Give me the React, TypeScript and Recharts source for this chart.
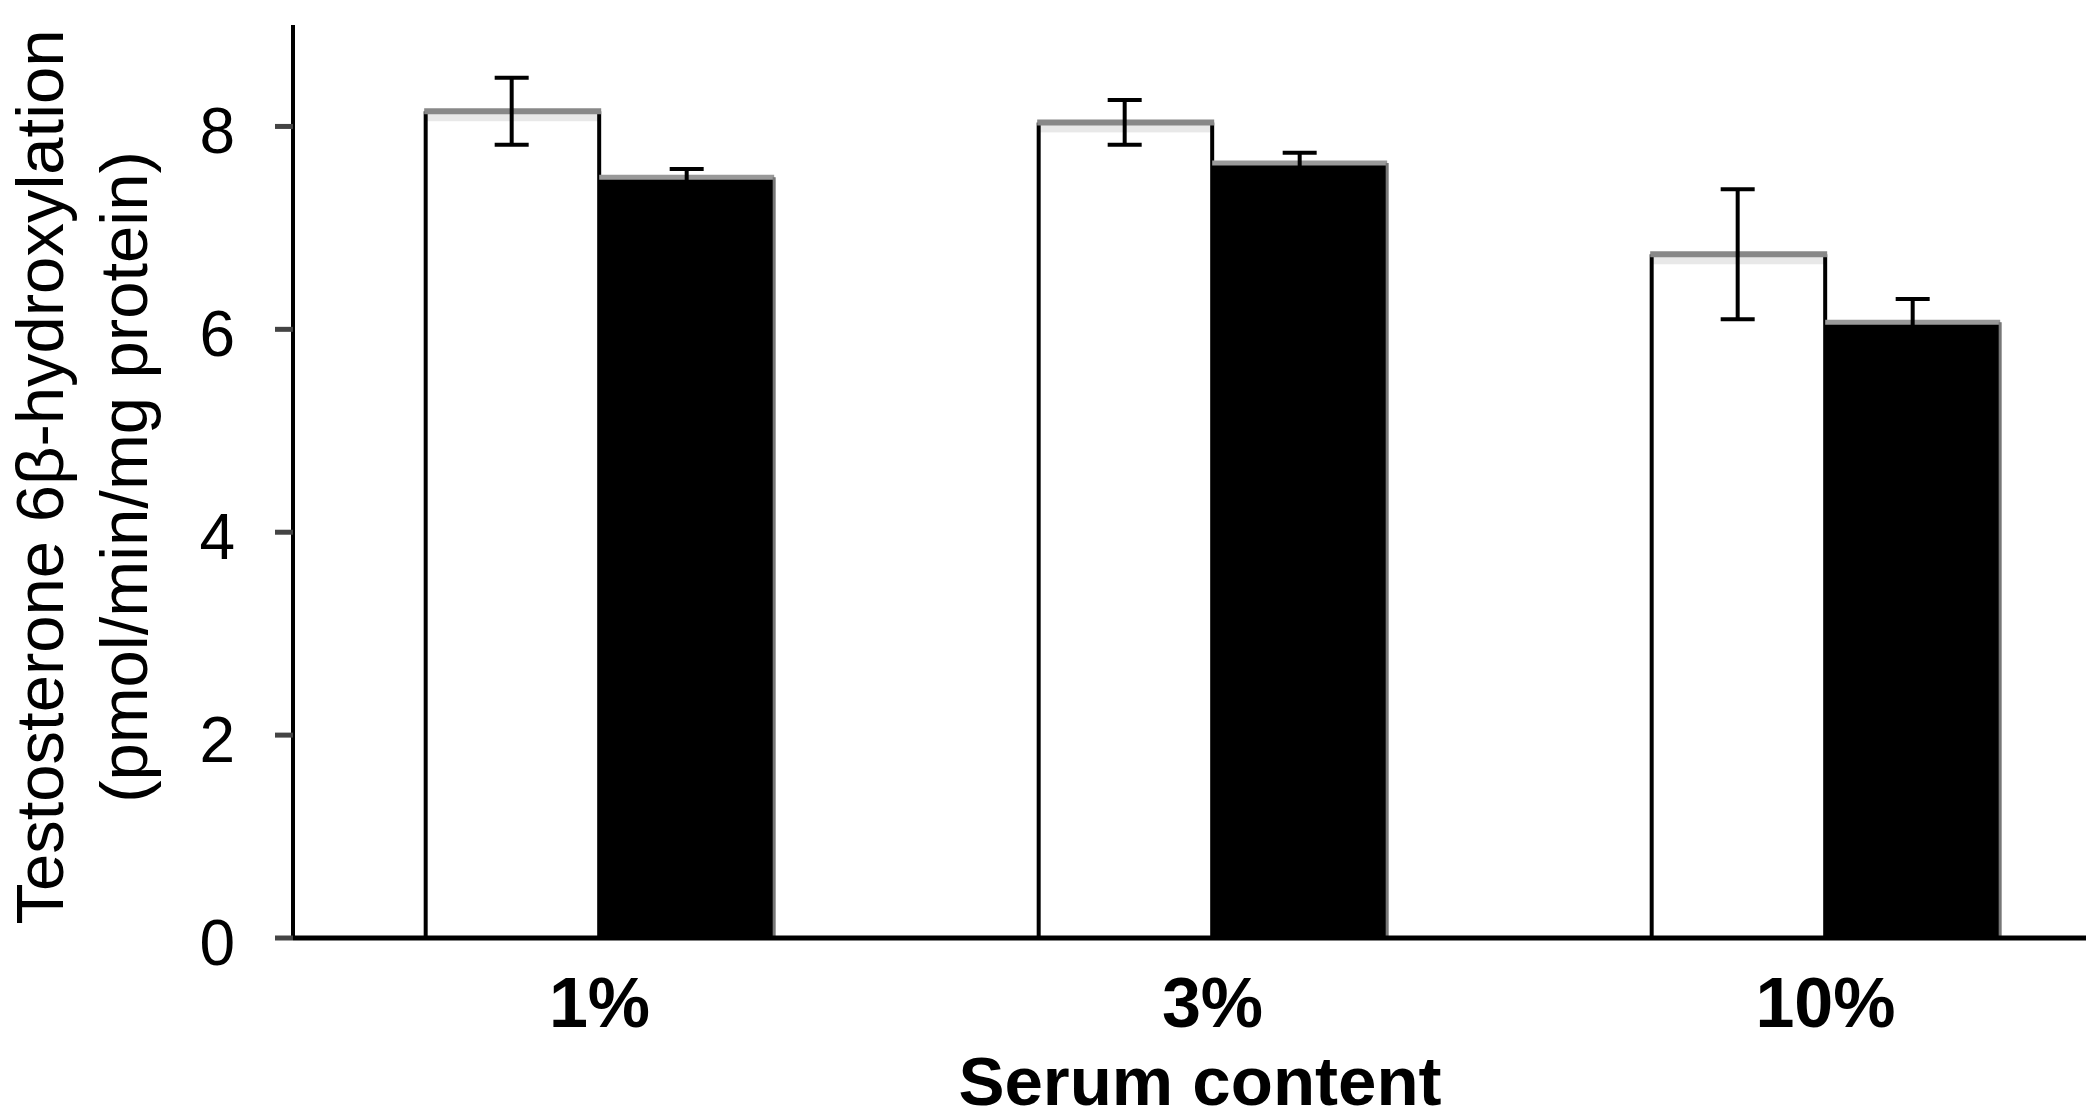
import React from 'react';
import { BarChart, Bar, XAxis, YAxis, ErrorBar } from 'recharts';

const categories = ['1%', '3%', '10%'];
const openValues = [8.15, 8.04, 6.74];
const openErrors = [0.33, 0.22, 0.64];
const filledValues = [7.5, 7.64, 6.07];
const filledErrors = [0.08, 0.1, 0.23];
const yTicks = [0, 2, 4, 6, 8];

const data = categories.map((c, i) => ({
  name: c,
  open: openValues[i],
  openErr: openErrors[i],
  filled: filledValues[i],
  filledErr: filledErrors[i],
}));

const FONT = '"Liberation Sans", Arial, Helvetica, sans-serif';

const WhiteBar = (p: any) => {
  const { x, y, width, height } = p;
  return (
    <g>
      <rect x={x} y={y} width={width} height={height} fill="#fff" />
      <rect x={x} y={y + 2} width={width} height={8} fill="#e8e8e8" />
      <line x1={x + 1.5} y1={y} x2={x + 1.5} y2={y + height} stroke="#000" strokeWidth={4} />
      <line x1={x + width} y1={y} x2={x + width} y2={y + height} stroke="#000" strokeWidth={4} />
      <line x1={x} y1={y} x2={x + width + 2} y2={y} stroke="#888" strokeWidth={6} />
    </g>
  );
};

const BlackBar = (p: any) => {
  const { x, y, width, height } = p;
  return (
    <g>
      <rect x={x} y={y} width={width} height={height} fill="#000" />
      <line x1={x} y1={y} x2={x + width} y2={y} stroke="#999" strokeWidth={5} />
      <line x1={x + width} y1={y} x2={x + width} y2={y + height} stroke="#777" strokeWidth={3} />
    </g>
  );
};

const XTick = (p: any) => {
  const { x, y, payload } = p;
  return (
    <text x={x} y={y + 89} textAnchor="middle" fontFamily={FONT} fontSize={70} fontWeight="bold" fill="#000">
      {payload.value}
    </text>
  );
};

const YTick = (p: any) => {
  const { x, y, payload } = p;
  return (
    <text x={x} y={y + 27} textAnchor="end" fontFamily={FONT} fontSize={64} fill="#000">
      {payload.value}
    </text>
  );
};

const YLabel = () => (
  <text transform="translate(63,477) rotate(-90)" textAnchor="middle" fontFamily={FONT} fontSize={67} fill="#000">
    <tspan x={0} y={0}>Testosterone 6β-hydroxylation</tspan>
    <tspan x={0} y={84}>(pmol/min/mg protein)</tspan>
  </text>
);

const XLabel = () => (
  <text x={1200} y={1105} textAnchor="middle" fontFamily={FONT} fontSize={69} fontWeight="bold" fill="#000">
    Serum content
  </text>
);

export default function App() {
  return (
    <div style={{ position: 'absolute', left: 0, top: 0, width: 2086, height: 1119, overflow: 'hidden', background: '#fff' }}>
      <BarChart
        width={2086}
        height={1119}
        data={data}
        margin={{ top: 25, right: -46, bottom: 0, left: 0 }}
        barCategoryGap="21.4%"
        barGap={0}
      >
        <Bar dataKey="open" shape={<WhiteBar />} isAnimationActive={false}>
          <ErrorBar dataKey="openErr" width={17} stroke="#000" strokeWidth={4} isAnimationActive={false} />
        </Bar>
        <Bar dataKey="filled" shape={<BlackBar />} isAnimationActive={false}>
          <ErrorBar dataKey="filledErr" width={17} stroke="#000" strokeWidth={4} isAnimationActive={false} />
        </Bar>
        <XAxis
          dataKey="name"
          height={181}
          tickLine={false}
          tickSize={0}
          tickMargin={0}
          axisLine={{ stroke: '#000', strokeWidth: 5 }}
          tick={<XTick />}
          label={{ content: () => <XLabel /> }}
        />
        <YAxis
          width={293}
          domain={[0, 9]}
          ticks={yTicks}
          tickSize={18}
          tickMargin={40}
          tickLine={{ stroke: '#444', strokeWidth: 5 }}
          axisLine={{ stroke: '#000', strokeWidth: 4 }}
          tick={<YTick />}
          label={{ content: () => <YLabel /> }}
        />
      </BarChart>
    </div>
  );
}
